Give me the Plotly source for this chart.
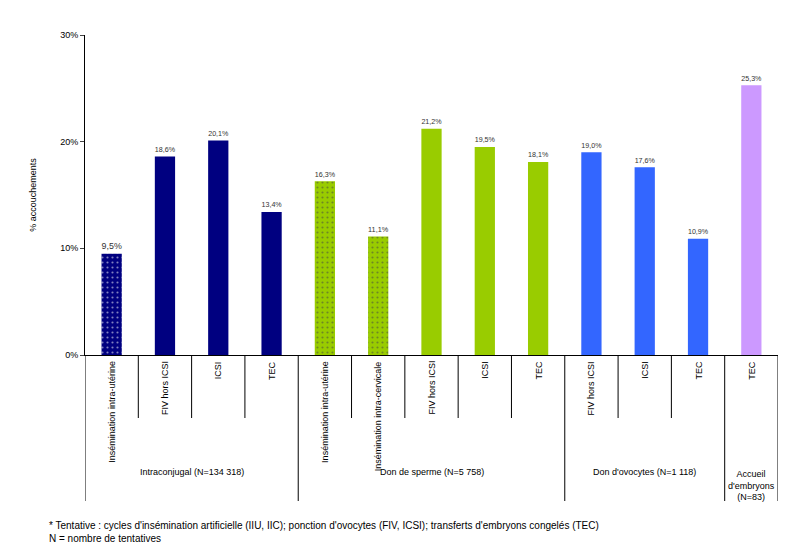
import plotly.graph_objects as go

categories = ["Insémination intra-utérine", "FIV hors ICSI", "ICSI", "TEC",
              "Insémination intra-utérine", "Insémination intra-cervicale", "FIV hors ICSI", "ICSI", "TEC",
              "FIV hors ICSI", "ICSI", "TEC",
              "TEC"]
values = [9.5, 18.6, 20.1, 13.4, 16.3, 11.1, 21.2, 19.5, 18.1, 19.0, 17.6, 10.9, 25.3]
labels = ["9,5%", "18,6%", "20,1%", "13,4%", "16,3%", "11,1%", "21,2%", "19,5%", "18,1%",
          "19,0%", "17,6%", "10,9%", "25,3%"]
colors = ["#000080"] * 4 + ["#99CC00"] * 5 + ["#3366FF"] * 3 + ["#CC99FF"]
patterns = [".", "", "", "", ".", ".", "", "", "", "", "", "", ""]
groups = ["Intraconjugal (N=134 318)", "Don de sperme (N=5 758)",
          "Don d'ovocytes (N=1 118)", "Accueil<br>d'embryons<br>(N=83)"]
group_sizes = [4, 5, 3, 1]

H = 320.0
xs = list(range(len(values)))
fig = go.Figure(go.Bar(
    x=xs, y=[v / 100 for v in values], width=0.38,
    marker=dict(color=colors, line=dict(width=0),
                pattern=dict(shape=patterns, fgcolor="white", size=5, solidity=0.15)),
    text=labels, textposition="outside", cliponaxis=False,
    textfont=dict(size=9, color="#333"),
))

font = dict(family="Arial", size=9, color="black")
for i, c in enumerate(categories):
    fig.add_annotation(x=i, y=-4 / H, xref="x", yref="paper", text=c, textangle=-90,
                       showarrow=False, yanchor="top", font=font)

start = 0
for g, n in zip(groups, group_sizes):
    mid = start + (n - 1) / 2
    fig.add_annotation(x=mid, y=-(110 if n > 1 else 112) / H, xref="x", yref="paper", text=g,
                       showarrow=False, yanchor="top", font=font)
    for k in range(n):
        b = start + k - 0.5
        end = -146 / H if k == 0 else -63 / H
        fig.add_shape(type="line", x0=b, x1=b, y0=0, y1=end, xref="x", yref="paper",
                      line=dict(color="black", width=1))
    start += n
fig.add_shape(type="line", x0=start - 0.5, x1=start - 0.5, y0=0, y1=-146 / H,
              xref="x", yref="paper", line=dict(color="black", width=1))

fig.add_annotation(x=-38 / 693, y=-163 / H, xref="paper", yref="paper", xanchor="left", yanchor="top",
                   align="left", showarrow=False, font=dict(family="Arial", size=10, color="black"),
                   text="* Tentative : cycles d'insémination artificielle (IIU, IIC); ponction d'ovocytes (FIV, ICSI); transferts d'embryons congelés (TEC)<br>N = nombre de tentatives")

fig.update_layout(
    width=800, height=544, margin=dict(l=77, r=30, t=27, b=197, autoexpand=False),
    plot_bgcolor="white", paper_bgcolor="white", showlegend=False,
    font=font,
)
fig.update_xaxes(range=[-0.5, 12.5], showticklabels=False, showgrid=False,
                 showline=True, linecolor="black", zeroline=False)
fig.update_yaxes(range=[0, 0.3], tickvals=[0, 0.1, 0.2, 0.3], tickformat=".0%",
                 showgrid=False, showline=True, linecolor="black", ticks="outside",
                 ticklen=4, zeroline=False,
                 title=dict(text="% accouchements", font=dict(size=9), standoff=22))

fig.write_html("out.html")
